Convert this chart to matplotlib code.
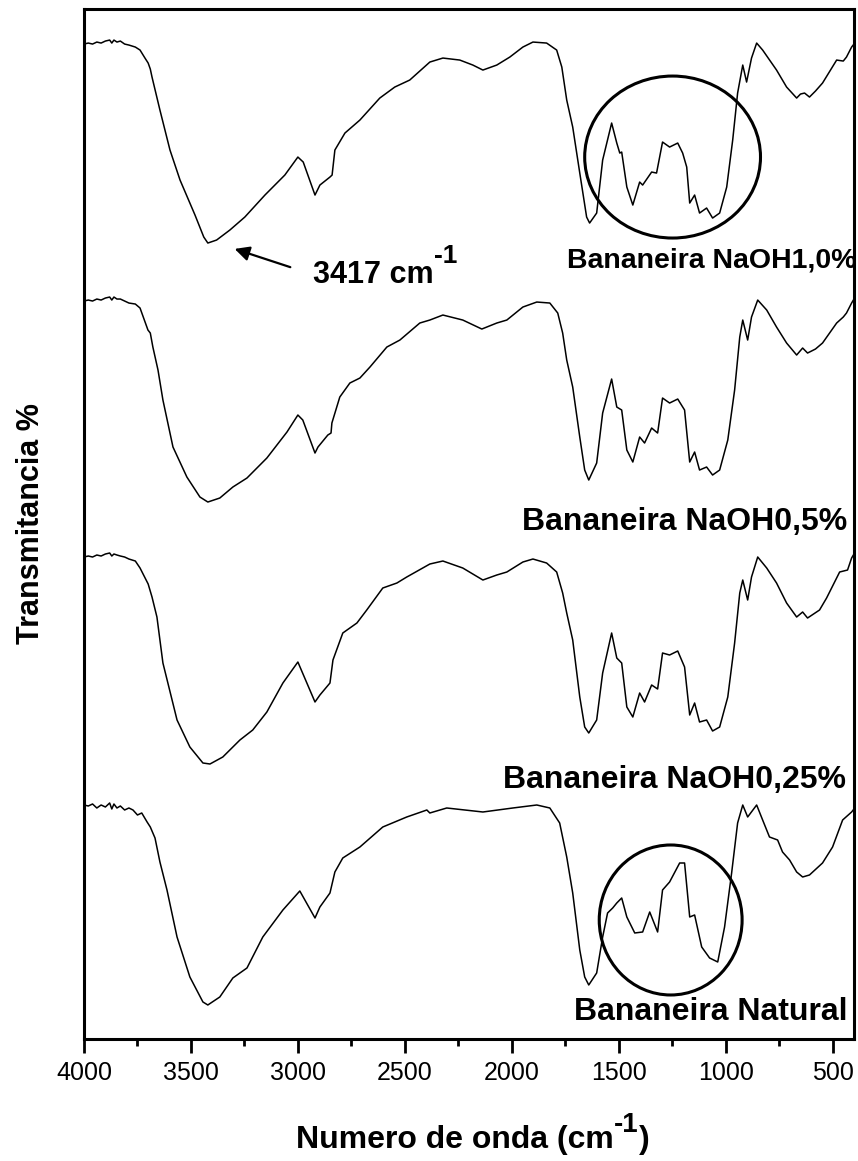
import matplotlib.pyplot as plt
from matplotlib.patches import Ellipse
from matplotlib.transforms import IdentityTransform

plt.rcParams['font.family'] = ['Liberation Sans', 'DejaVu Sans']

# espectros FTIR (numero de onda, transmitancia deslocada)
naoh_10 = [
    (4000, 99.5), (3980, 99.6), (3960, 99.5), (3940, 99.7), (3920, 99.6), (3900, 99.8),
    (3880, 99.9), (3870, 99.6), (3860, 99.9), (3846, 99.7), (3830, 99.8), (3810, 99.5),
    (3790, 99.4), (3760, 99.2), (3738, 98.9), (3715, 98.1), (3700, 97.6), (3690, 97.0),
    (3682, 96.2), (3645, 92.9), (3598, 88.9), (3551, 85.9), (3481, 82.4), (3440, 80.2),
    (3421, 79.6), (3380, 79.9), (3318, 80.9), (3248, 82.2), (3154, 84.4), (3061, 86.4),
    (3000, 88.2), (2975, 87.7), (2920, 84.4), (2897, 85.4), (2850, 86.2), (2840, 86.4),
    (2827, 88.9), (2780, 90.6), (2710, 91.9), (2617, 94.1), (2547, 95.2), (2477, 95.9),
    (2383, 97.7), (2322, 98.1), (2243, 97.9), (2182, 97.4), (2135, 96.9), (2070, 97.4),
    (2009, 98.2), (1948, 99.2), (1901, 99.7), (1837, 99.6), (1790, 98.9), (1766, 97.2),
    (1743, 93.9), (1715, 91.2), (1682, 86.6), (1650, 82.2), (1636, 81.6), (1603, 82.6),
    (1575, 87.9), (1533, 91.6), (1509, 89.6), (1495, 88.6), (1486, 88.7), (1462, 85.2),
    (1434, 83.4), (1402, 85.7), (1388, 85.4), (1346, 86.7), (1323, 86.6), (1295, 89.7),
    (1262, 89.2), (1224, 89.6), (1201, 88.6), (1182, 87.2), (1168, 83.6), (1145, 84.4),
    (1122, 82.6), (1089, 83.1), (1061, 82.1), (1028, 82.6), (995, 85.2), (967, 89.9),
    (944, 94.6), (920, 97.4), (902, 95.7), (879, 98.1), (855, 99.6), (827, 98.9),
    (762, 96.9), (715, 95.2), (668, 94.1), (650, 94.5), (631, 94.6), (608, 94.2),
    (580, 94.8), (547, 95.6), (481, 97.9), (450, 97.8), (435, 98.2), (411, 99.2), (400, 99.5),
]

naoh_05 = [
    (4000, 73.8), (3980, 73.9), (3960, 73.8), (3940, 74.0), (3920, 73.9), (3900, 74.1),
    (3880, 74.2), (3870, 73.9), (3860, 74.2), (3846, 74.0), (3830, 74.0), (3810, 73.8),
    (3790, 73.6), (3760, 73.5), (3738, 73.1), (3701, 70.9), (3690, 70.6), (3678, 69.2),
    (3654, 66.9), (3631, 63.9), (3584, 59.2), (3519, 56.2), (3458, 54.2), (3421, 53.7),
    (3365, 54.1), (3304, 55.2), (3238, 56.1), (3145, 58.1), (3051, 60.7), (3000, 62.4),
    (2977, 61.9), (2920, 58.6), (2906, 59.2), (2860, 60.4), (2845, 60.6), (2841, 61.6),
    (2804, 64.2), (2757, 65.6), (2710, 66.1), (2663, 67.2), (2584, 69.2), (2523, 69.9),
    (2430, 71.6), (2383, 71.9), (2322, 72.4), (2229, 71.9), (2140, 71.0), (2070, 71.6),
    (2023, 71.9), (1948, 73.2), (1883, 73.7), (1822, 73.6), (1785, 72.6), (1762, 70.6),
    (1743, 67.9), (1715, 65.2), (1682, 60.2), (1659, 56.9), (1640, 55.9), (1603, 57.6),
    (1575, 62.6), (1533, 66.0), (1509, 63.2), (1486, 62.9), (1462, 58.9), (1434, 57.7),
    (1402, 60.2), (1379, 59.6), (1346, 61.1), (1318, 60.6), (1295, 64.1), (1262, 63.6),
    (1224, 64.0), (1192, 62.9), (1168, 57.7), (1145, 58.7), (1122, 56.9), (1089, 57.2),
    (1061, 56.4), (1028, 56.9), (990, 59.9), (958, 64.9), (934, 70.2), (920, 71.9),
    (897, 69.9), (879, 72.2), (850, 73.9), (808, 72.9), (762, 71.2), (715, 69.6),
    (668, 68.4), (640, 69.1), (617, 68.6), (580, 69.0), (547, 69.6), (481, 71.6),
    (450, 72.2), (435, 72.6), (411, 73.6), (400, 74.0),
]

naoh_025 = [
    (4000, 48.2), (3980, 48.3), (3960, 48.2), (3940, 48.4), (3920, 48.3), (3900, 48.5),
    (3880, 48.6), (3870, 48.3), (3860, 48.5), (3846, 48.4), (3830, 48.3), (3810, 48.2),
    (3790, 48.0), (3760, 47.8), (3738, 47.1), (3700, 45.5), (3682, 44.2), (3659, 42.2),
    (3631, 37.6), (3565, 31.9), (3505, 29.2), (3444, 27.6), (3411, 27.5), (3351, 28.2),
    (3271, 29.9), (3211, 30.9), (3145, 32.7), (3070, 35.6), (3000, 37.7), (2920, 33.7),
    (2897, 34.4), (2850, 35.6), (2836, 37.9), (2790, 40.6), (2724, 41.6), (2678, 42.9),
    (2603, 45.1), (2537, 45.6), (2491, 46.2), (2383, 47.5), (2322, 47.8), (2229, 47.1),
    (2135, 45.9), (2070, 46.4), (2023, 46.7), (1948, 47.7), (1901, 48.0), (1837, 47.6),
    (1790, 46.7), (1762, 44.6), (1743, 42.6), (1715, 39.9), (1682, 34.2), (1659, 31.2),
    (1640, 30.6), (1603, 31.9), (1575, 36.6), (1533, 40.6), (1509, 38.1), (1486, 37.6),
    (1462, 33.2), (1434, 32.2), (1402, 34.6), (1379, 33.7), (1346, 35.4), (1318, 35.0),
    (1295, 38.6), (1262, 38.4), (1224, 38.8), (1192, 37.2), (1168, 32.4), (1145, 33.6),
    (1122, 31.7), (1089, 31.9), (1061, 30.8), (1028, 31.2), (990, 34.2), (958, 39.6),
    (934, 44.6), (920, 45.9), (897, 43.9), (879, 46.2), (850, 48.2), (808, 47.1),
    (762, 45.6), (715, 43.6), (668, 42.2), (640, 42.7), (617, 42.1), (561, 42.9),
    (528, 44.1), (467, 46.7), (430, 46.9), (411, 48.1), (400, 48.5),
]

natural = [
    (4000, 23.4), (3980, 23.3), (3960, 23.5), (3940, 23.1), (3920, 23.4), (3900, 23.2),
    (3880, 23.6), (3870, 23.0), (3860, 23.5), (3846, 23.1), (3830, 23.3), (3810, 22.9),
    (3790, 23.1), (3771, 22.9), (3750, 22.4), (3730, 22.6), (3705, 21.7), (3690, 21.2),
    (3668, 20.1), (3645, 17.7), (3612, 14.9), (3565, 10.2), (3505, 6.2), (3444, 3.7),
    (3421, 3.4), (3365, 4.2), (3304, 6.1), (3238, 7.1), (3164, 10.2), (3070, 12.9),
    (2991, 14.8), (2920, 12.1), (2897, 13.2), (2850, 14.6), (2827, 16.7), (2790, 18.1),
    (2710, 19.2), (2603, 21.2), (2491, 22.2), (2397, 22.9), (2383, 22.6), (2304, 23.1),
    (2135, 22.7), (1995, 23.1), (1883, 23.4), (1822, 23.1), (1776, 21.6), (1743, 18.2),
    (1715, 14.6), (1682, 8.9), (1659, 6.2), (1640, 5.4), (1603, 6.6), (1575, 10.2),
    (1552, 12.6), (1528, 13.1), (1509, 13.6), (1486, 14.1), (1462, 12.2), (1425, 10.6),
    (1388, 10.7), (1355, 12.7), (1318, 10.7), (1295, 14.9), (1262, 15.7), (1215, 17.6),
    (1192, 17.6), (1168, 12.2), (1145, 12.4), (1112, 9.2), (1075, 8.1), (1037, 7.7),
    (1005, 11.2), (972, 16.6), (944, 21.6), (920, 23.4), (897, 22.2), (855, 23.4),
    (827, 21.9), (795, 20.2), (757, 19.9), (734, 18.7), (701, 17.9), (668, 16.7),
    (640, 16.2), (608, 16.4), (547, 17.6), (500, 19.2), (453, 21.9), (411, 22.7), (400, 23.0),
]

spectra = [naoh_10, naoh_05, naoh_025, natural]
labels = ['Bananeira NaOH1,0%', 'Bananeira NaOH0,5%', 'Bananeira NaOH0,25%', 'Bananeira Natural']
# (x, y, tamanho) de cada rotulo, alinhado pela direita
label_pos = [(386, 77.2, 20.5), (430, 50.9, 23), (435, 25.1, 23), (430, 1.9, 23)]

fig = plt.figure(figsize=(8.58, 11.61), dpi=100)
ax = fig.add_axes([0.0979, 0.1051, 0.8974, 0.8871])

for sp in spectra:
    w, t = zip(*sp)
    ax.plot(w, t, color='black', lw=1.1)

for lab, (xp, yp, fs) in zip(labels, label_pos):
    ax.text(xp, yp, lab, fontsize=fs, fontweight='bold', ha='right', va='baseline',
            clip_on=False)

# regioes destacadas
ax.add_patch(Ellipse((1248, 88.2), 822, 16.2, fill=False, lw=2.2, ec='black'))
ax.add_patch(Ellipse((1257, 11.9), 668, 15.0, fill=False, lw=2.2, ec='black'))

ax.annotate('', xy=(3308, 79.1), xytext=(3023, 77.1),
            arrowprops=dict(arrowstyle='-|>', color='black', lw=1.6, mutation_scale=22))

ax.set_xlim(4000, 400)
ax.set_ylim(0, 103)
ax.set_xticks([4000, 3500, 3000, 2500, 2000, 1500, 1000, 500])
ax.set_xticks([3750, 3250, 2750, 2250, 1750, 1250, 750], minor=True)
ax.set_yticks([])
ax.tick_params(axis='x', which='major', direction='out', length=10, width=2, labelsize=18, pad=6)
ax.tick_params(axis='x', which='minor', direction='out', length=5, width=2)
for s in ax.spines.values():
    s.set_linewidth(2.2)

ax.set_ylabel('Transmitancia %', fontsize=22, fontweight='bold', labelpad=27)

# textos com expoente "-1" montados em pixels
renderer = fig.canvas.get_renderer()
H = fig.bbox.height


def sup_text(parts, x0, y_top, center=False):
    x = x0
    items = []
    for s, size, rise in parts:
        t = fig.text(x, H - y_top + rise, s, fontsize=size, fontweight='bold',
                     transform=IdentityTransform(), ha='left', va='baseline')
        x += t.get_window_extent(renderer).width
        items.append(t)
    if center:
        shift = (x - x0) / 2
        for t in items:
            px, py = t.get_position()
            t.set_position((px - shift, py))


sup_text([('3417 cm', 22, 0), ('-1', 19, 20)], 313, 283)
sup_text([('Numero de onda (cm', 23, 0), ('-1', 20, 16), (')', 23, 0)], 473, 1148, center=True)

plt.savefig('out.png', dpi=100)
